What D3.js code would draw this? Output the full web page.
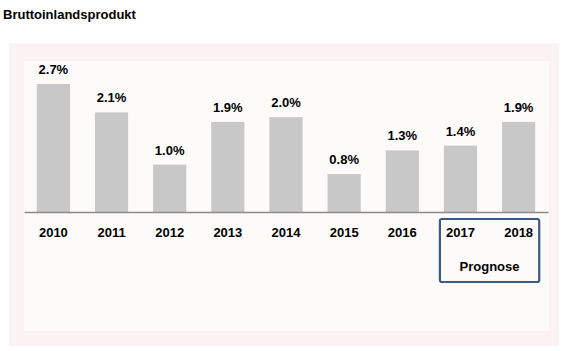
<!DOCTYPE html>
<html lang="de">
<head>
<meta charset="utf-8">
<title>Bruttoinlandsprodukt</title>
<script src="https://d3js.org/d3.v7.min.js"></script>
<style>
  body { margin: 0; background: #fff; }
  text { font-family: "Liberation Sans", Arial, sans-serif; font-weight: bold; fill: #000; }
</style>
</head>
<body>
<div id="chart"></div>
<script>
var years = ["2010", "2011", "2012", "2013", "2014", "2015", "2016", "2017", "2018"];
var growth = [2.7, 2.1, 1.0, 1.9, 2.0, 0.8, 1.3, 1.4, 1.9];
var forecastYears = ["2017", "2018"];

var W = 563, H = 351;

var svg = d3.select("#chart")
    .append("svg")
    .attr("width", W)
    .attr("height", H);

// title
svg.append("text")
    .attr("x", 3)
    .attr("y", 19)
    .style("font-size", "13px")
    .text("Bruttoinlandsprodukt");

// outer + inner panels
svg.append("rect")
    .attr("x", 9).attr("y", 43)
    .attr("width", 550).attr("height", 303)
    .attr("fill", "#fbf3f3");
svg.append("rect")
    .attr("x", 24).attr("y", 61)
    .attr("width", 525).attr("height", 270)
    .attr("fill", "#fcfbfa");

var x = d3.scaleBand()
    .domain(years)
    .range([24, 548])
    .paddingInner(0.43)
    .paddingOuter(0.22);

var y = d3.scaleLinear()
    .domain([0, 2.7])
    .range([212, 84]);

// bars
svg.selectAll(".bar")
    .data(growth)
    .enter()
    .append("rect")
    .attr("class", "bar")
    .attr("x", function(d, i) { return x(years[i]); })
    .attr("y", function(d) { return y(d); })
    .attr("width", x.bandwidth())
    .attr("height", function(d) { return y(0) - y(d); })
    .attr("fill", "#c8c8c8");

// value labels
svg.selectAll(".val")
    .data(growth)
    .enter()
    .append("text")
    .attr("class", "val")
    .attr("x", function(d, i) { return x(years[i]) + x.bandwidth() / 2; })
    .attr("y", function(d) { return y(d) - 10; })
    .attr("text-anchor", "middle")
    .style("font-size", "13px")
    .text(function(d) { return d.toFixed(1) + "%"; });

// axis
var axis = svg.append("g")
    .attr("transform", "translate(0," + y(0) + ")")
    .call(d3.axisBottom(x).tickSize(0).tickPadding(16));
axis.select(".domain").attr("stroke", "#8c8c8c").attr("stroke-width", 1.3);
axis.selectAll("text")
    .style("font-size", "13px")
    .style("font-family", "'Liberation Sans', Arial, sans-serif")
    .style("font-weight", "bold")
    .attr("fill", "#000");

// forecast box
var bx0 = x(forecastYears[0]) - 4;
var bx1 = x(forecastYears[forecastYears.length - 1]) + x.bandwidth() + 4;
svg.append("rect")
    .attr("x", bx0).attr("y", 219)
    .attr("width", bx1 - bx0).attr("height", 63)
    .attr("rx", 2)
    .attr("fill", "none")
    .attr("stroke", "#3d5a87")
    .attr("stroke-width", 2.2);

svg.append("text")
    .attr("x", (bx0 + bx1) / 2)
    .attr("y", 271)
    .attr("text-anchor", "middle")
    .style("font-size", "13px")
    .text("Prognose");
</script>
</body>
</html>
